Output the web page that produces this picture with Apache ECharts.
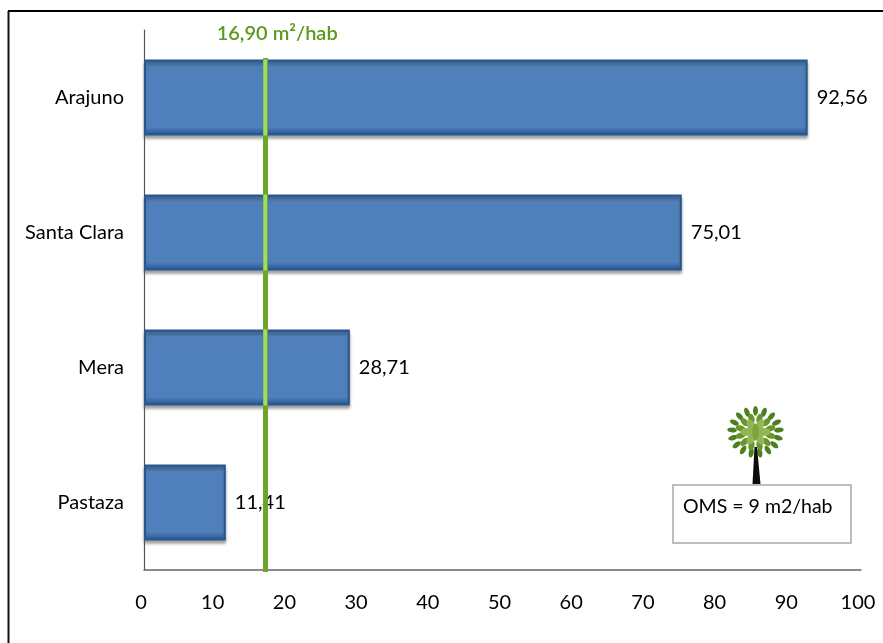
<!DOCTYPE html>
<html>
<head>
<meta charset="utf-8">
<style>html,body{margin:0;padding:0;background:#fff}#chart{width:883px;height:643px}</style>
<script src="https://cdn.jsdelivr.net/npm/echarts@6/dist/echarts.min.js"></script>
</head>
<body>
<div id="chart"></div>
<script>
// Green area per inhabitant by canton (m2/hab)
const cantons = ['Arajuno', 'Santa Clara', 'Mera', 'Pastaza'];
const areaPerHab = [92.56, 75.01, 28.71, 11.41];
const provinceAverage = 16.90;
const crossedCantons = ['Arajuno', 'Santa Clara', 'Mera'];
const averageLabel = '16,90 m²/hab';
const referenceNote = 'OMS = 9 m2/hab';

const FONT = 'Lato, "Open Sans", sans-serif';
const comma = v => v.toFixed(2).replace('.', ',');

// Small tree emblem above the note box, built from rings of rotated leaves
function treeLeaves(cx, cy) {
  const rings = [
    { r: 23.5, n: 17, a: 4.8, b: 2.5, fill: '#4d7f1f', start: -90 },
    { r: 15.5, n: 12, a: 5, b: 3, fill: '#66962c', start: -75 },
    { r: 8.5, n: 6, a: 6.5, b: 3.9, fill: '#93b556', start: -60 },
    { r: 0, n: 1, a: 8.5, b: 3.4, fill: '#7ba43a', start: -90 }
  ];
  const out = [];
  rings.forEach(ring => {
    for (let i = 0; i < ring.n; i++) {
      const deg = ring.start + (360 * i) / ring.n;
      const t = (deg * Math.PI) / 180;
      out.push({
        type: 'ellipse',
        shape: { cx: 0, cy: 0, rx: ring.b, ry: ring.a },
        x: cx + ring.r * Math.cos(t),
        y: cy + ring.r * 0.9 * Math.sin(t),
        rotation: -(t + Math.PI / 2),
        style: { fill: ring.fill }
      });
    }
  });
  return out;
}

const chart = echarts.init(document.getElementById('chart'), null, { renderer: 'canvas' });
chart.setOption({
  backgroundColor: '#ffffff',
  animation: false,
  grid: { left: 144, right: 22, top: 30, bottom: 73 },
  xAxis: {
    type: 'value', min: 0, max: 100, interval: 10,
    splitLine: { show: false },
    axisTick: { show: false },
    axisLine: { show: true, lineStyle: { color: '#666', width: 1.5 } },
    axisLabel: { color: '#000', fontFamily: FONT, fontSize: 20, margin: 23, padding: [0, 6, 0, 0] }
  },
  yAxis: {
    type: 'category', data: cantons, inverse: true,
    axisTick: { show: false },
    axisLine: { show: true, lineStyle: { color: '#555', width: 1.2 } },
    axisLabel: { color: '#000', fontFamily: FONT, fontSize: 20, margin: 20 }
  },
  series: [
    {
      type: 'bar', data: areaPerHab, barWidth: 76, z: 2,
      itemStyle: {
        color: {
          type: 'linear', x: 0, y: 0, x2: 0, y2: 1,
          colorStops: [
            { offset: 0, color: '#2a5a96' }, { offset: 0.09, color: '#4f80bb' },
            { offset: 0.89, color: '#4f80bb' }, { offset: 1, color: '#24528c' }
          ]
        },
        borderColor: '#27578f', borderWidth: 2,
        shadowColor: 'rgba(90,90,90,0.55)', shadowBlur: 3, shadowOffsetY: 3
      },
      label: {
        show: true, position: 'right', distance: 9, color: '#000',
        fontFamily: FONT, fontSize: 20,
        formatter: p => comma(p.value)
      }
    },
    {
      // Provincial average marker, running over the bars and their labels
      type: 'line', data: [], z: 6, zlevel: 1, silent: true,
      markLine: {
        symbol: 'none', silent: true, animation: false,
        lineStyle: { color: '#6ca42c', width: 5, type: 'solid' },
        label: {
          position: 'start', distance: 14, offset: [12, 0], formatter: averageLabel,
          color: '#5c9a1e', fontFamily: FONT, fontSize: 20, fontWeight: 600
        },
        emphasis: { disabled: true },
        data: [[{ xAxis: provinceAverage, y: 58 }, { xAxis: provinceAverage, y: 572 }]]
      }
    },
    {
      // Lighter core of the marker where it crosses a bar
      type: 'custom', z: 7, zlevel: 1, silent: true,
      data: crossedCantons.map(c => [provinceAverage, c]),
      encode: { x: 0, y: 1 },
      renderItem: (params, api) => {
        const p = api.coord([api.value(0), api.value(1)]);
        return {
          type: 'rect',
          shape: { x: p[0] - 1.8, y: p[1] - 38, width: 3.6, height: 76 },
          style: { fill: '#a2dc68' }
        };
      }
    }
  ],
  graphic: [
    { type: 'line', shape: { x1: 8.5, y1: 11, x2: 8.5, y2: 643 }, style: { stroke: '#111', lineWidth: 2 } },
    { type: 'line', shape: { x1: 8, y1: 11, x2: 883, y2: 11 }, style: { stroke: '#000', lineWidth: 2 } },
    { type: 'group', children: treeLeaves(755.5, 432) },
    {
      type: 'polygon', shape: { points: [[754.5, 447], [757, 447], [760.5, 484], [752.5, 484]] },
      style: { fill: '#0c0c0c' }
    },
    {
      type: 'rect', shape: { x: 673, y: 485, width: 178, height: 58 },
      style: { fill: '#fff', stroke: '#a8a8a8', lineWidth: 1.5 }
    },
    {
      type: 'text', x: 683, y: 507,
      style: { text: referenceNote, fill: '#000', font: '19.5px ' + FONT, textVerticalAlign: 'middle' }
    }
  ]
});
</script>
</body>
</html>
